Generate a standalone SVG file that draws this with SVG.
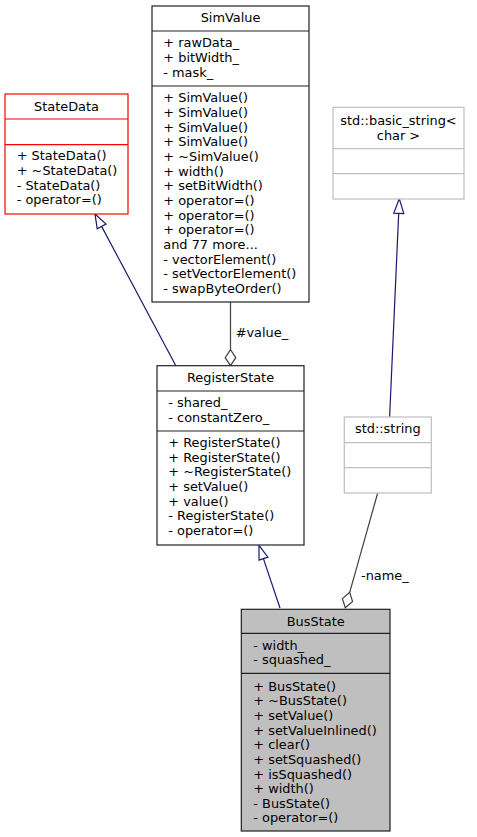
<svg xmlns="http://www.w3.org/2000/svg" width="477" height="837" viewBox="0 0 477 837">
<style>
text{font-family:"DejaVu Sans","Liberation Sans",sans-serif;font-size:12.9px;fill:#000}
.c{text-anchor:middle}
.box{fill:#fff;stroke:#202020;stroke-width:1.2}
.red{fill:#fff;stroke:#ff0000;stroke-width:1.2}
.lg{fill:#fff;stroke:#bfbfbf;stroke-width:1.2}
.gray{fill:#bfbfbf;stroke:#202020;stroke-width:1.2}
.sep{stroke-width:1.2}
.inh{stroke:#191970;stroke-width:1.2;fill:none}
.inhh{stroke:#191970;stroke-width:1.2;fill:#fff}
.agg{stroke:#404040;stroke-width:1.2;fill:none}
.aggh{stroke:#404040;stroke-width:1.2;fill:#fff}
</style>
<rect width="477" height="837" fill="#fff"/>
<g id="connectors">
<line class="inh" x1="176" y1="366" x2="101.6" y2="226.4"/>
<polygon class="inhh" points="95,214 106,224 97.2,228.7"/>
<line class="agg" x1="230.5" y1="302" x2="230.5" y2="349.7"/>
<polygon class="aggh" points="230.5,365.7 235.8,357.7 230.5,349.7 225.2,357.7"/>
<text x="235.7" y="337">#value_</text>
<line class="inh" x1="389.6" y1="417" x2="398.7" y2="213.3"/>
<polygon class="inhh" points="399.3,198.7 403.8,213.5 393.8,213.1"/>
<line class="inh" x1="280" y1="608" x2="263.4" y2="558.6"/>
<polygon class="inhh" points="259,545.3 267.9,557.1 259,560.1"/>
<line class="agg" x1="377.7" y1="493" x2="349.7" y2="592.3"/>
<polygon class="aggh" points="345.3,607.7 352.6,601.5 349.7,592.3 342.4,598.6"/>
<text x="361" y="580">-name_</text>
</g>
<g id="SimValue">
<rect class="box" x="152" y="6" width="157" height="296"/>
<line class="box sep" x1="152" y1="31" x2="309" y2="31"/>
<line class="box sep" x1="152" y1="86" x2="309" y2="86"/>
<text class="c" x="230.5" y="22">SimValue</text>
<text x="163.3" y="47.4">+ rawData_</text>
<text x="163.3" y="62">+ bitWidth_</text>
<text x="163.3" y="76.7">- mask_</text>
<text x="163.3" y="102.4">+ SimValue()</text>
<text x="163.3" y="117.1">+ SimValue()</text>
<text x="163.3" y="131.7">+ SimValue()</text>
<text x="163.3" y="146.4">+ SimValue()</text>
<text x="163.3" y="161.1">+ ~SimValue()</text>
<text x="163.3" y="175.7">+ width()</text>
<text x="163.3" y="190.4">+ setBitWidth()</text>
<text x="163.3" y="205.1">+ operator=()</text>
<text x="163.3" y="219.7">+ operator=()</text>
<text x="163.3" y="234.4">+ operator=()</text>
<text x="163.3" y="249.1">and 77 more...</text>
<text x="163.3" y="263.7">- vectorElement()</text>
<text x="163.3" y="278.4">- setVectorElement()</text>
<text x="163.3" y="292.8">- swapByteOrder()</text>
</g>
<g id="StateData">
<rect class="red" x="5" y="94" width="123" height="120"/>
<line class="red" x1="5" y1="119" x2="128" y2="119"/>
<line class="red" x1="5" y1="144.7" x2="128" y2="144.7"/>
<text class="c" x="66.5" y="110.7">StateData</text>
<text x="16.7" y="160.4">+ StateData()</text>
<text x="16.7" y="175.1">+ ~StateData()</text>
<text x="16.7" y="189.7">- StateData()</text>
<text x="16.7" y="204.4">- operator=()</text>
</g>
<g id="basic_string">
<rect class="lg" x="333" y="107.3" width="131" height="91.7"/>
<line class="lg" x1="333" y1="148.7" x2="464" y2="148.7"/>
<line class="lg" x1="333" y1="173.7" x2="464" y2="173.7"/>
<text class="c" x="398.5" y="124.8">std::basic_string&lt;</text>
<text class="c" x="398.5" y="139.6">char &gt;</text>
</g>
<g id="RegisterState">
<rect class="box" x="157" y="365.7" width="147" height="179.3"/>
<line class="box sep" x1="157" y1="391" x2="304" y2="391"/>
<line class="box sep" x1="157" y1="431" x2="304" y2="431"/>
<text class="c" x="230.5" y="382">RegisterState</text>
<text x="168.3" y="407">- shared_</text>
<text x="168.3" y="422">- constantZero_</text>
<text x="168.3" y="447">+ RegisterState()</text>
<text x="168.3" y="461.7">+ RegisterState()</text>
<text x="168.3" y="476.3">+ ~RegisterState()</text>
<text x="168.3" y="491">+ setValue()</text>
<text x="168.3" y="505.7">+ value()</text>
<text x="168.3" y="520.3">- RegisterState()</text>
<text x="168.3" y="535">- operator=()</text>
</g>
<g id="std_string">
<rect class="lg" x="344.3" y="417" width="87" height="76"/>
<line class="lg" x1="344.3" y1="442.7" x2="431.3" y2="442.7"/>
<line class="lg" x1="344.3" y1="467.7" x2="431.3" y2="467.7"/>
<text class="c" x="387.8" y="433">std::string</text>
</g>
<g id="BusState">
<rect class="gray" x="241.3" y="609.3" width="148.7" height="221.7"/>
<line class="gray" x1="241.3" y1="633.3" x2="390" y2="633.3"/>
<line class="gray" x1="241.3" y1="673.3" x2="390" y2="673.3"/>
<text class="c" x="315.7" y="625.7">BusState</text>
<text x="253.3" y="649.7">- width_</text>
<text x="253.3" y="664.4">- squashed_</text>
<text x="253.3" y="690.7">+ BusState()</text>
<text x="253.3" y="705.4">+ ~BusState()</text>
<text x="253.3" y="720">+ setValue()</text>
<text x="253.3" y="734.7">+ setValueInlined()</text>
<text x="253.3" y="749.4">+ clear()</text>
<text x="253.3" y="764">+ setSquashed()</text>
<text x="253.3" y="778.7">+ isSquashed()</text>
<text x="253.3" y="793.4">+ width()</text>
<text x="253.3" y="808">- BusState()</text>
<text x="253.3" y="822.4">- operator=()</text>
</g>
</svg>
